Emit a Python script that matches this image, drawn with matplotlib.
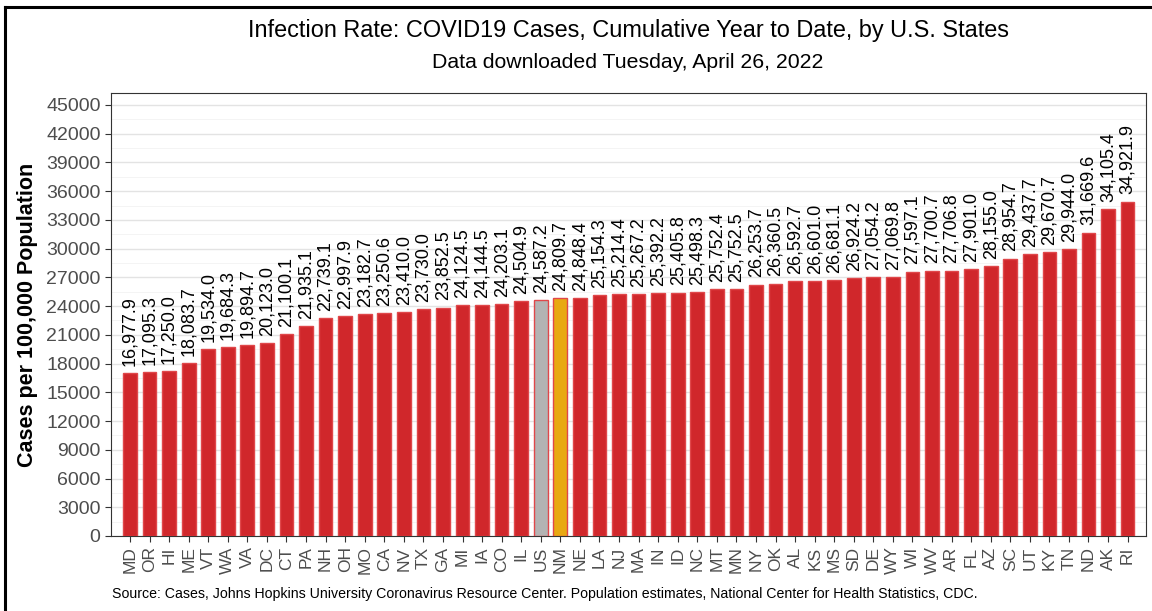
import matplotlib.pyplot as plt
from matplotlib.ticker import MultipleLocator
from matplotlib.lines import Line2D

plt.rcParams["font.family"] = ["Liberation Sans", "DejaVu Sans"]

states = ["MD", "OR", "HI", "ME", "VT", "WA", "VA", "DC", "CT", "PA", "NH", "OH", "MO",
          "CA", "NV", "TX", "GA", "MI", "IA", "CO", "IL", "US", "NM", "NE", "LA", "NJ",
          "MA", "IN", "ID", "NC", "MT", "MN", "NY", "OK", "AL", "KS", "MS", "SD", "DE",
          "WY", "WI", "WV", "AR", "FL", "AZ", "SC", "UT", "KY", "TN", "ND", "AK", "RI"]
rates = [16977.9, 17095.3, 17250.0, 18083.7, 19534.0, 19684.3, 19894.7, 20123.0, 21100.1,
         21935.1, 22739.1, 22997.9, 23182.7, 23250.6, 23410.0, 23730.0, 23852.5, 24124.5,
         24144.5, 24203.1, 24504.9, 24587.2, 24809.7, 24848.4, 25154.3, 25214.4, 25267.2,
         25392.2, 25405.8, 25498.3, 25752.4, 25752.5, 26253.7, 26360.5, 26592.7, 26601.0,
         26681.1, 26924.2, 27054.2, 27069.8, 27597.1, 27700.7, 27706.8, 27901.0, 28155.0,
         28954.7, 29437.7, 29670.7, 29944.0, 31669.6, 34105.4, 34921.9]

red = "#D0272B"
fills = []
for s in states:
    if s == "US":
        fills.append("#B3B3B3")
    elif s == "NM":
        fills.append("#E8A912")
    else:
        fills.append(red)

fig = plt.figure(figsize=(11.52, 6.11), dpi=100)
ax = fig.add_axes([111 / 1152, 1 - 536 / 611, (1146 - 111) / 1152, (536 - 93) / 611])

x = range(len(states))
ax.bar(x, rates, width=0.7, color=fills, edgecolor="#E0474A", linewidth=1.0, zorder=3)

for i, v in enumerate(rates):
    ax.text(i, v + 750, f"{v:,.1f}", rotation=90, ha="center", va="bottom",
            fontsize=13, color="black", zorder=4)

ax.set_xlim(-0.97, len(states) - 0.06)
ax.set_ylim(0, 46250)
ax.yaxis.set_major_locator(MultipleLocator(3000))
ax.yaxis.set_minor_locator(MultipleLocator(1500))
ax.grid(which="major", axis="y", color="#E3E3E3", linewidth=1.0, zorder=0)
ax.grid(which="minor", axis="y", color="#F2F2F2", linewidth=0.6, zorder=0)
ax.set_xticks(list(x))
ax.set_xticklabels(states, rotation=90, fontsize=12.5, color="#4D4D4D")
ax.tick_params(axis="y", which="major", labelsize=14, labelcolor="#4D4D4D", color="#333333", length=4)
ax.tick_params(axis="y", which="minor", length=0)
ax.tick_params(axis="x", color="#333333", length=4)
for sp in ax.spines.values():
    sp.set_color("#333333")
    sp.set_linewidth(0.8)

ax.set_ylabel("Cases per 100,000 Population", fontsize=15.5, fontweight="bold", labelpad=6)

fig.text(628 / 1152, 1 - 30 / 611, "Infection Rate: COVID19 Cases, Cumulative Year to Date, by U.S. States",
         ha="center", va="center", fontsize=16.9)
fig.text(628 / 1152, 1 - 63 / 611, "Data downloaded Tuesday, April 26, 2022",
         ha="center", va="center", fontsize=15.3)
fig.text(545 / 1152, 1 - 594 / 611,
         "Source: Cases, Johns Hopkins University Coronavirus Resource Center. Population estimates, National Center for Health Statistics, CDC.",
         ha="center", va="center", fontsize=10.2)

# figure border on the left and top only
fig.lines.append(Line2D([5 / 1152, 5 / 1152], [0, 1 - 7 / 611], transform=fig.transFigure,
                        color="black", linewidth=2.2))
fig.lines.append(Line2D([5 / 1152, 1], [1 - 7 / 611, 1 - 7 / 611], transform=fig.transFigure,
                        color="black", linewidth=2.2))

fig.savefig("out.png", dpi=100)
